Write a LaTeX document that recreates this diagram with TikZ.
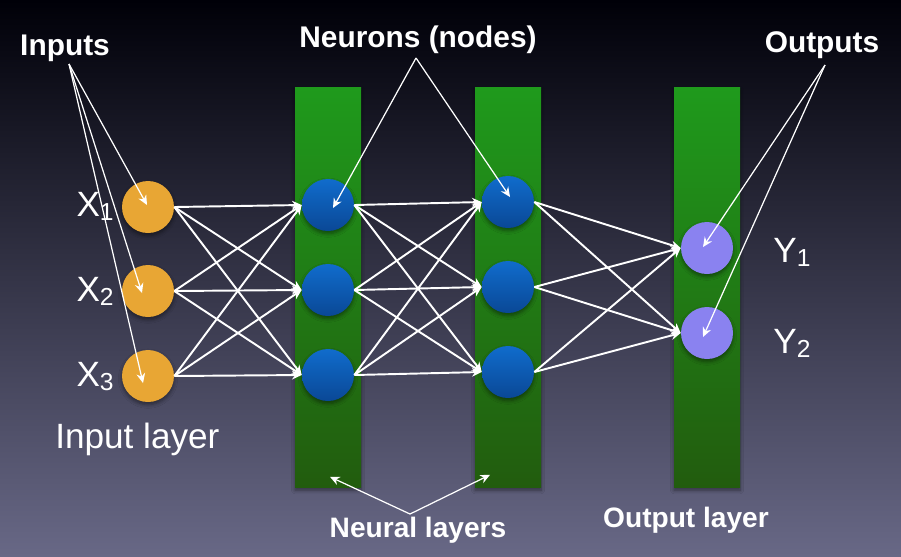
\documentclass[tikz,border=0pt]{standalone}
\usepackage{fontspec}
\setmainfont{Liberation Sans}
\usetikzlibrary{
    arrows.meta,
    calc,
    positioning,
    shadows.blur
}
\definecolor{bgtop}{RGB}{0,0,8}
\definecolor{bgmid}{RGB}{42,42,82}
\definecolor{bgbot}{RGB}{104,104,134}
\definecolor{bartop}{RGB}{31,154,28}
\definecolor{barbot}{RGB}{34,92,14}
\definecolor{inputfill}{RGB}{232,166,52}
\definecolor{hiddentop}{RGB}{16,108,204}
\definecolor{hiddenbot}{RGB}{10,72,150}
\definecolor{outputfill}{RGB}{138,130,240}
\newcommand{\subvar}[2]{#1\raisebox{-2.5pt}{\fontsize{14}{14}\selectfont #2}}
\tikzset{
    line cap=round,
    line join=round,
    pop/.style={
        blur shadow={shadow xshift=0pt, shadow yshift=-1.5pt,
            shadow opacity=45, shadow blur steps=5}
    },
    layerbar/.style={
        rectangle,
        draw=none,
        top color=bartop,
        bottom color=barbot,
        minimum width=1.32cm,
        minimum height=8cm,
        inner sep=0pt,
        pop
    },
    neuron/.style={
        circle,
        draw=none,
        minimum size=1.04cm,
        inner sep=0pt,
        pop
    },
    inputnode/.style={neuron, fill=inputfill},
    hiddennode/.style={neuron, top color=hiddentop, bottom color=hiddenbot},
    outputnode/.style={neuron, fill=outputfill},
    link/.style={
        -{Stealth[length=5.5pt,width=5pt]},
        draw=white,
        line width=1.1pt
    },
    pointer/.style={
        -{Stealth[length=5.5pt,width=5pt]},
        draw=white,
        line width=0.7pt
    },
    callout/.style={
        font=\bfseries\fontsize{17}{20}\selectfont,
        text=white,
        inner sep=0pt
    },
    varlabel/.style={
        font=\fontsize{20}{24}\selectfont,
        text=white,
        inner sep=0pt
    }
}

\begin{document}
\begin{tikzpicture}[x=0.02cm, y=-0.02cm]

% Background
\useasboundingbox (0,0) rectangle (901,556);
\shade[top color=bgtop, middle color=bgmid, bottom color=bgbot]
    (0,0) rectangle (901,556);

% Layer bars
\node[layerbar] (barA) at (328,287.5) {};
\node[layerbar] (barB) at (508,287.5) {};
\node[layerbar] (barC) at (707,287.5) {};

% Neurons
\node[inputnode] (in1) at (148,207) {};
\node[inputnode] (in2) at (148,291) {};
\node[inputnode] (in3) at (148,376) {};

\node[hiddennode] (hA1) at (328,205) {};
\node[hiddennode] (hA2) at (328,290) {};
\node[hiddennode] (hA3) at (328,375) {};

\node[hiddennode] (hB1) at (508,202) {};
\node[hiddennode] (hB2) at (508,287) {};
\node[hiddennode] (hB3) at (508,372) {};

\node[outputnode] (out1) at (707,248) {};
\node[outputnode] (out2) at (707,333) {};

% Connections
\foreach \i in {1,2,3} {
    \foreach \j in {1,2,3} {
        \draw[link] (in\i.east) -- (hA\j.west);
        \draw[link] (hA\i.east) -- (hB\j.west);
    }
    \foreach \j in {1,2} {
        \draw[link] (hB\i.east) -- (out\j.west);
    }
}

% Variable labels
\node[varlabel, anchor=base east] (x1lab) at (114,216) {\subvar{X}{1}};
\node[varlabel, anchor=base east] (x2lab) at (114,301) {\subvar{X}{2}};
\node[varlabel, anchor=base east] (x3lab) at (114,386) {\subvar{X}{3}};
\node[varlabel, anchor=base west] (y1lab) at (773,262) {\subvar{Y}{1}};
\node[varlabel, anchor=base west] (y2lab) at (773,353) {\subvar{Y}{2}};

\node[varlabel, anchor=base west] (inlayer) at (55,448) {Input layer};

% Callouts
\node[callout, anchor=base] (inputs) at (65,55) {Inputs};
\node[callout, anchor=base] (neurons) at (418,47) {Neurons (nodes)};
\node[callout, anchor=base] (outputs) at (822,52) {Outputs};
\node[callout, anchor=base, font=\bfseries\fontsize{16}{19}\selectfont]
    (neural) at (418,537) {Neural layers};
\node[callout, anchor=base, font=\bfseries\fontsize{16}{19}\selectfont]
    (outlayer) at (686,527) {Output layer};

\coordinate (inputsfoot) at (69,64);
\coordinate (neuronsfoot) at (416,58);
\coordinate (outputsfoot) at (825,65);
\coordinate (neuralfoot) at (410,514);

\draw[pointer] (inputsfoot) -- ([shift={(-1,-2)}]in1.center);
\draw[pointer] (inputsfoot) -- ([shift={(-6,2)}]in2.center);
\draw[pointer] (inputsfoot) -- ([shift={(-5,7)}]in3.center);

\draw[pointer] (neuronsfoot) -- ([shift={(5,3)}]hA1.center);
\draw[pointer] (neuronsfoot) -- ([shift={(2,-5)}]hB1.center);

\draw[pointer] (outputsfoot) -- ([shift={(-4,-1)}]out1.center);
\draw[pointer] (outputsfoot) -- ([shift={(-4,4)}]out2.center);

\draw[pointer] (neuralfoot) -- ([shift={(2,-11)}]barA.south);
\draw[pointer] (neuralfoot) -- ([shift={(-18,-13)}]barB.south);

\end{tikzpicture}
\end{document}
